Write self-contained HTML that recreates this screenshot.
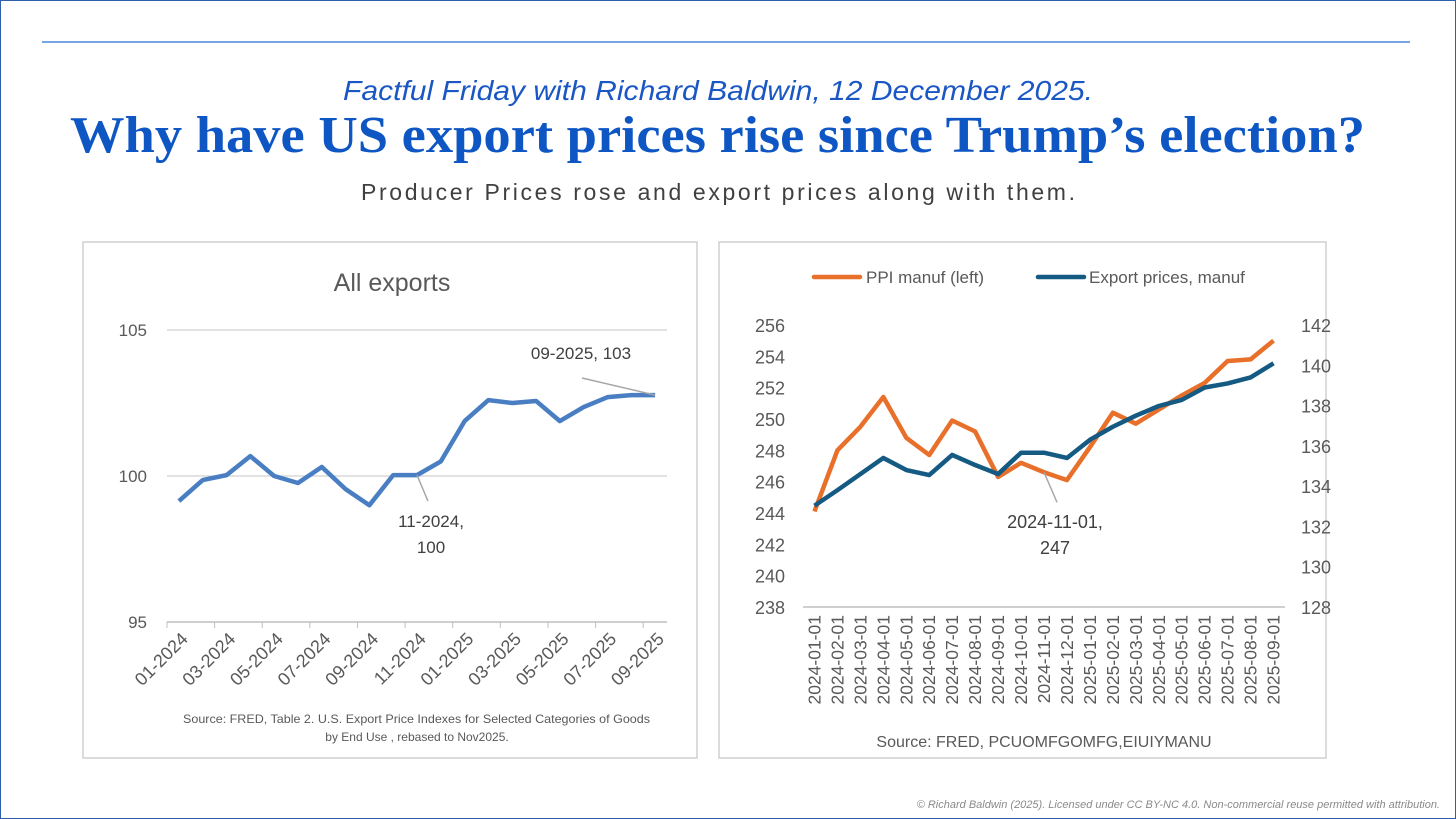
<!DOCTYPE html>
<html><head><meta charset="utf-8"><style>
body{margin:0;width:1456px;height:819px;background:#fff;overflow:hidden;font-family:"Liberation Sans",sans-serif}
.frame{position:absolute;left:0;top:0;width:1454px;height:817px;border:1px solid #2f5faa}
</style></head><body>
<div class="frame"></div>
<svg width="1456" height="819" style="position:absolute;left:0;top:0" id="svg">
<line x1="42" y1="42" x2="1410" y2="42" stroke="#4a86d8" stroke-width="1.5"/>
<text x="343" y="100" textLength="750" lengthAdjust="spacingAndGlyphs" font-size="28" font-style="italic" fill="#1a56c4">Factful Friday with Richard Baldwin, 12 December 2025.</text>
<text x="70" y="152" textLength="1295" lengthAdjust="spacingAndGlyphs" font-family="Liberation Serif,serif" font-weight="bold" font-size="52" fill="#0d56c4">Why have US export prices rise since Trump’s election?</text>
<text x="361" y="200" textLength="714" lengthAdjust="spacing" font-size="23" fill="#404040">Producer Prices rose and export prices along with them.</text>
<rect x="83" y="242" width="614" height="516" fill="#fff" stroke="#d0d0d0" stroke-width="1.5"/>
<rect x="719" y="242" width="607" height="516" fill="#fff" stroke="#d0d0d0" stroke-width="1.5"/>
<text x="392" y="291" text-anchor="middle" font-size="25" fill="#595959">All exports</text>
<text x="1440" y="808" text-anchor="end" font-size="11" font-style="italic" fill="#8a8a8a">© Richard Baldwin (2025). Licensed under CC BY-NC 4.0. Non-commercial reuse permitted with attribution.</text>
<g id="left"></g><g id="right"></g>
</svg>
<script>
const leftCats=["01-2024","02-2024","03-2024","04-2024","05-2024","06-2024","07-2024","08-2024","09-2024","10-2024","11-2024","12-2024","01-2025","02-2025","03-2025","04-2025","05-2025","06-2025","07-2025","08-2025","09-2025"];
const leftVals=[99.14,99.86,100.03,100.68,100.0,99.76,100.31,99.55,99.0,100.03,100.03,100.5,101.88,102.6,102.5,102.57,101.88,102.36,102.7,102.77,102.77];
const leftTicks=[95,100,105];
const rightCats=["2024-01-01","2024-02-01","2024-03-01","2024-04-01","2024-05-01","2024-06-01","2024-07-01","2024-08-01","2024-09-01","2024-10-01","2024-11-01","2024-12-01","2025-01-01","2025-02-01","2025-03-01","2025-04-01","2025-05-01","2025-06-01","2025-07-01","2025-08-01","2025-09-01"];
const ppiVals=[244.1,248.0,249.5,251.4,248.8,247.7,249.9,249.2,246.3,247.2,246.6,246.1,248.2,250.4,249.7,250.6,251.5,252.3,253.7,253.8,255.0];
const expVals=[133.03,133.8,134.6,135.4,134.8,134.55,135.55,135.05,134.6,135.66,135.66,135.4,136.3,136.95,137.5,137.98,138.28,138.9,139.1,139.4,140.1];
const leftAxisTicks=[238,240,242,244,246,248,250,252,254,256];
const rightAxisTicks=[128,130,132,134,136,138,140,142];
const NS="http://www.w3.org/2000/svg";
function mk(parent,tag,attrs,text){const e=document.createElementNS(NS,tag);for(const k in attrs)e.setAttribute(k,attrs[k]);if(text!=null)e.textContent=text;parent.appendChild(e);return e;}
// LEFT
const L=document.getElementById('left');
const lx0=167,lx1=667,ly=v=>476-(v-100)*29.2,lstep=(lx1-lx0)/leftCats.length,lx=i=>lx0+lstep*(i+0.5);
leftTicks.forEach(t=>{
 const g=mk(L,'line',{x1:lx0,x2:lx1,y1:ly(t),y2:ly(t),stroke:t===95?'#bfbfbf':'#d9d9d9','stroke-width':1.5});
 
 
 const tx=mk(L,'text',{x:147,y:ly(t)+6,'text-anchor':'end','font-size':17,fill:'#595959'},String(t));
 
 
});
for(let i=0;i<=leftCats.length;i+=2){
 const x=lx0+lstep*i;
 const tk=mk(L,'line',{x1:x,x2:x,y1:ly(95),y2:ly(95)+6,stroke:'#bfbfbf'});
 
 
}
leftCats.forEach((c,i)=>{if(i%2)return;const x=lx(i)+10,y=ly(95)+18;
 const t=mk(L,'text',{x:x,y:y,'text-anchor':'end','font-size':18,fill:'#595959',transform:`rotate(-45 ${x} ${y})`},c);
 
 });
const lp=mk(L,'polyline',{points:leftVals.map((v,i)=>lx(i)+','+ly(v)).join(' '),fill:'none',stroke:'#4a7ec2','stroke-width':4.5,'stroke-linejoin':'round'});


const a1=mk(L,'line',{x1:lx(10),y1:ly(leftVals[10]),x2:lx(10)+11,y2:ly(leftVals[10])+26,stroke:'#a6a6a6','stroke-width':1.5});


const at1=mk(L,'text',{x:431,y:527,'text-anchor':'middle','font-size':17,fill:'#404040'},'11-2024,');


const at1b=mk(L,'text',{x:431,y:553,'text-anchor':'middle','font-size':17,fill:'#404040'},'100');


const a2=mk(L,'line',{x1:lx(20),y1:ly(leftVals[20]),x2:582,y2:378,stroke:'#a6a6a6','stroke-width':1.5});


const at2=mk(L,'text',{x:581,y:359,'text-anchor':'middle','font-size':17,fill:'#404040'},'09-2025, 103');


const s1=mk(L,'text',{x:183,y:723,textLength:467,lengthAdjust:'spacingAndGlyphs','font-size':12,fill:'#595959'},'Source: FRED, Table 2. U.S. Export Price Indexes for Selected Categories of Goods');


const s2=mk(L,'text',{x:417,y:741,'text-anchor':'middle','font-size':12,fill:'#595959'},'by End Use , rebased to Nov2025.');


// RIGHT
const R=document.getElementById('right');
const rx0=803,rx1=1285,rstep=(rx1-rx0)/rightCats.length,rx=i=>rx0+rstep*(i+0.5);
const yl=v=>607-(v-238)*15.67,yr=v=>607-(v-128)*20.14;
const base=mk(R,'line',{x1:rx0,x2:rx1,y1:607,y2:607,stroke:'#bfbfbf','stroke-width':1.5});


leftAxisTicks.forEach(t=>{const e=mk(R,'text',{x:785,y:yl(t)+7,'text-anchor':'end','font-size':18,fill:'#595959'},String(t));
 
 });
rightAxisTicks.forEach(t=>{const e=mk(R,'text',{x:1301,y:yr(t)+7,'font-size':18,fill:'#595959'},String(t));
 
 });
rightCats.forEach((c,i)=>{const x=rx(i)+6,y=615;
 const t=mk(R,'text',{x:x,y:y,'text-anchor':'end','font-size':17.5,fill:'#595959',transform:`rotate(-90 ${x} ${y})`},c);
 
 });
const po=mk(R,'polyline',{points:ppiVals.map((v,i)=>rx(i)+','+yl(v)).join(' '),fill:'none',stroke:'#e8702a','stroke-width':4.5,'stroke-linejoin':'round'});


const pb=mk(R,'polyline',{points:expVals.map((v,i)=>rx(i)+','+yr(v)).join(' '),fill:'none',stroke:'#155a83','stroke-width':4.5,'stroke-linejoin':'round'});


const a3=mk(R,'line',{x1:rx(10),y1:yl(ppiVals[10]),x2:rx(10)+13,y2:yl(ppiVals[10])+30,stroke:'#a6a6a6','stroke-width':1.5});


const at3=mk(R,'text',{x:1055,y:528,'text-anchor':'middle','font-size':18,fill:'#404040'},'2024-11-01,');


const at3b=mk(R,'text',{x:1055,y:554,'text-anchor':'middle','font-size':18,fill:'#404040'},'247');


const lg1=mk(R,'line',{x1:814,x2:860,y1:277,y2:277,stroke:'#e8702a','stroke-width':4.5,'stroke-linecap':'round'});


const lt1=mk(R,'text',{x:866,y:283,'font-size':17,fill:'#595959'},'PPI manuf (left)');


const lg2=mk(R,'line',{x1:1038,x2:1084,y1:277,y2:277,stroke:'#155a83','stroke-width':4.5,'stroke-linecap':'round'});


const lt2=mk(R,'text',{x:1089,y:283,'font-size':17,fill:'#595959'},'Export prices, manuf');


const s3=mk(R,'text',{x:1044,y:747,'text-anchor':'middle','font-size':16,fill:'#595959'},'Source: FRED, PCUOMFGOMFG,EIUIYMANU');


</script>
</body></html>
